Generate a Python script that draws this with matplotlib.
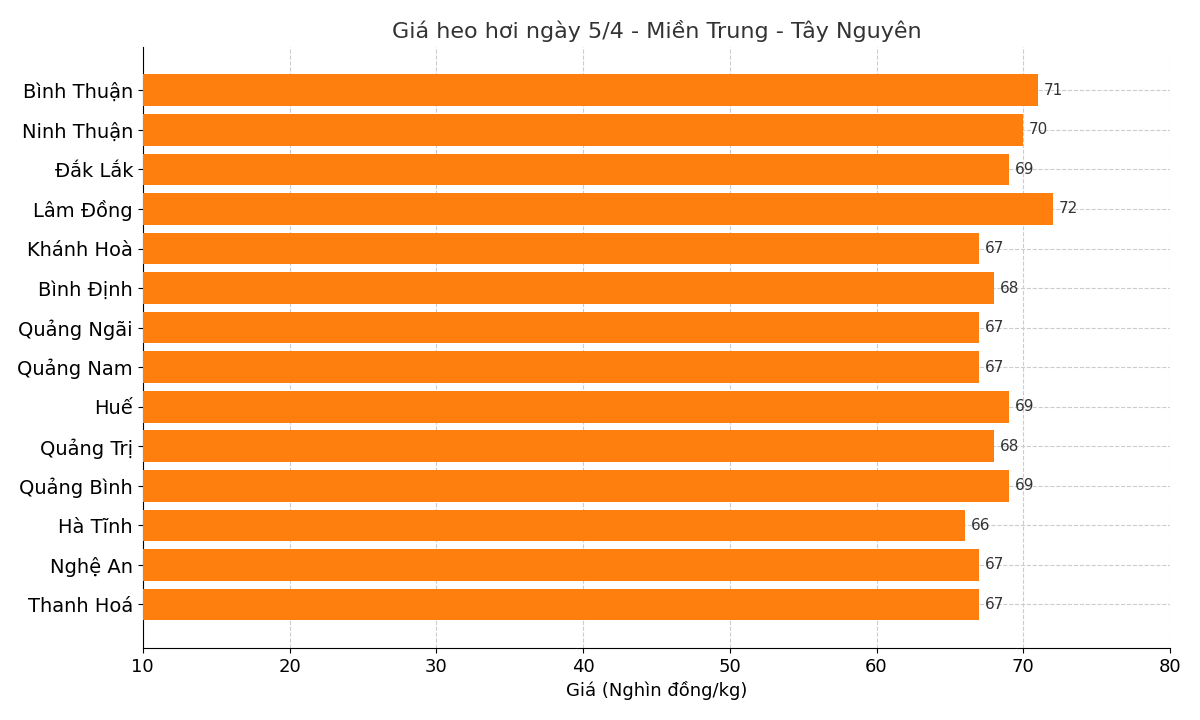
import matplotlib
matplotlib.use("Agg")
import matplotlib.pyplot as plt

provinces = ["Thanh Hoá", "Nghệ An", "Hà Tĩnh", "Quảng Bình", "Quảng Trị", "Huế",
             "Quảng Nam", "Quảng Ngãi", "Bình Định", "Khánh Hoà", "Lâm Đồng",
             "Đắk Lắk", "Ninh Thuận", "Bình Thuận"]
prices = [67, 67, 66, 69, 68, 69, 67, 67, 68, 67, 72, 69, 70, 71]

plt.rcParams['font.family'] = ['DejaVu Sans']
fig = plt.figure(figsize=(12, 7.2), dpi=100)
ax = fig.add_axes([0.119, 0.1, 0.856, 0.835])
y = list(range(len(provinces)))
ax.barh(y, prices, height=0.8, color="#ff7f0e", zorder=3)
for yi, v in zip(y, prices):
    ax.text(v + 0.4, yi, str(v), va="center", ha="left", fontsize=11, color="#333333", zorder=4)
ax.set_yticks(y)
ax.set_yticklabels(provinces, fontsize=14)
ax.set_xlim(10, 80)
ax.set_ylim(-1.1, 14.1)
ax.tick_params(axis='x', labelsize=13)
ax.set_xlabel("Giá (Nghìn đồng/kg)", fontsize=13)
ax.set_title("Giá heo hơi ngày 5/4 - Miền Trung - Tây Nguyên", fontsize=16, color="#333333")
ax.grid(True, linestyle="--", color="#cccccc", zorder=0)
ax.spines['top'].set_visible(False)
ax.spines['right'].set_visible(False)
fig.savefig("out.png")
